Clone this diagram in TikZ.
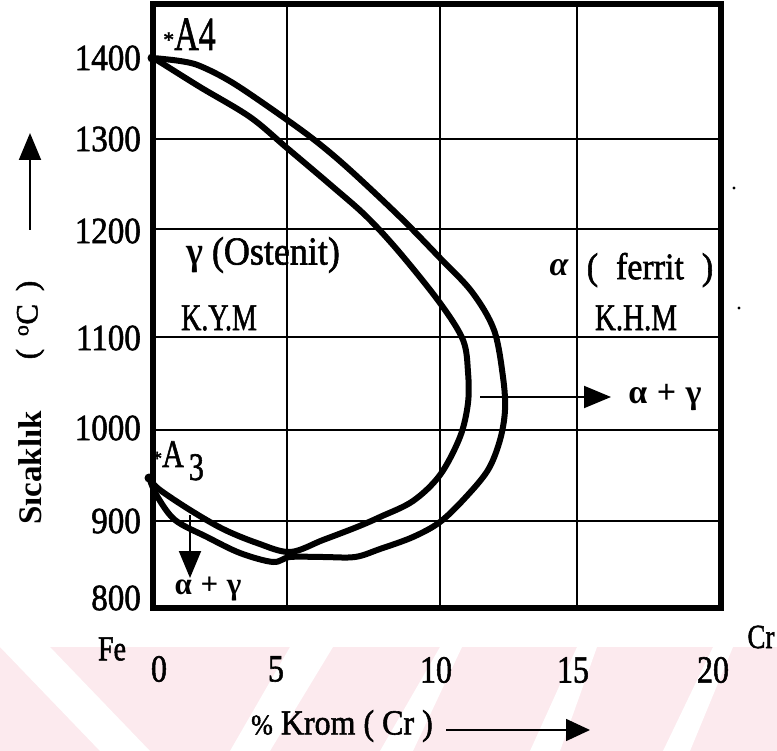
\documentclass[tikz,border=0pt]{standalone}
\usepackage{fontspec}
\setmainfont{Liberation Serif}[FakeBold=1.6]
\newfontfamily\boldser{Liberation Serif Bold}
\usetikzlibrary{arrows.meta}
\definecolor{wmpink}{RGB}{252,234,238}
\newcommand{\stretchy}[2]{\scalebox{1}[#1]{#2}}
\begin{document}
\begin{tikzpicture}[x=1pt,y=-1pt,
  frame/.style={line width=6pt, line join=miter},
  gridl/.style={line width=2.2pt},
  curve/.style={line width=6pt, line join=round, line cap=round},
  arr/.style={line width=2pt, -{Triangle[length=27pt,width=22pt]}},
  ticklab/.style={font=\fontsize{33}{33}\selectfont, anchor=east, inner sep=0pt},
  numlab/.style={font=\fontsize{32}{32}\selectfont, inner sep=0pt},
  lab/.style={inner sep=0pt},
  wm/.style={fill=wmpink, draw=none},
  wmgap/.style={fill=white, draw=none},
]
\useasboundingbox (0,0) rectangle (777,751);
% watermark stripes
\fill[wm] (0,647) rectangle (777,751);
\fill[wmgap] (0,647) -- (50,647) -- (150,751) -- (100,751) -- cycle;
\fill[wmgap] (290,647) -- (333,647) -- (270,751) -- (230,751) -- cycle;
\fill[wmgap] (440,647) -- (462,647) -- (413,751) -- (380,751) -- cycle;
\fill[wmgap] (577,647) -- (597,647) -- (560,751) -- (530,751) -- cycle;
\fill[wmgap] (713,647) -- (733,647) -- (690,751) -- (663,751) -- cycle;
% grid
\foreach \gx in {287,440,577} \draw[gridl] (\gx,4) -- (\gx,608);
\foreach \gy in {139,229,337,430,521} \draw[gridl] (153,\gy) -- (721,\gy);
\draw[frame] (153,4) rectangle (721,608);
% tick labels
\node[ticklab] (t1400) at (141,58) {\stretchy{1.12}{1400}};
\node[ticklab] (t1300) at (141,139) {\stretchy{1.12}{1300}};
\node[ticklab] (t1200) at (141,231) {\stretchy{1.12}{1200}};
\node[ticklab] (t1100) at (141,338) {\stretchy{1.12}{1100}};
\node[ticklab] (t1000) at (141,428) {\stretchy{1.12}{1000}};
\node[ticklab] (t900) at (141,521) {\stretchy{1.12}{900}};
\node[ticklab] (t800) at (141,598) {\stretchy{1.12}{800}};
\node[numlab] (x0) at (159,669) {\stretchy{1.2}{0}};
\node[numlab] (x5) at (276,669) {\stretchy{1.2}{5}};
\node[numlab] (x10) at (436,670) {\stretchy{1.2}{10}};
\node[numlab] (x15) at (573,670) {\stretchy{1.2}{15}};
\node[numlab] (x20) at (713,670) {\stretchy{1.2}{20}};
\node[lab, font=\fontsize{28}{28}\selectfont] (fe) at (112,649) {\stretchy{1.25}{Fe}};
\node[lab, font=\fontsize{27}{27}\selectfont] (cr) at (761,637) {\stretchy{1.25}{Cr}};
% axis titles
\node[lab, rotate=90, font=\fontsize{33}{33}\boldser] (ysic) at (30,468) {Sıcaklık};
\node[lab, rotate=90, font=\fontsize{31}{31}\selectfont] (ydeg) at (30,320) {(\, \textsuperscript{o}C\, )};
\coordinate (yarrS) at (30,230);
\coordinate (yarrE) at (30,133);
\draw[arr] (yarrS) -- (yarrE);
\node[lab, font=\fontsize{32}{32}\selectfont] (xtit) at (342,726) {\stretchy{1.1}{\fontsize{26}{26}\selectfont\%\fontsize{32}{32}\selectfont\ Krom ( Cr )}};
\coordinate (xarrS) at (446,730);
\coordinate (xarrE) at (590,730);
\draw[line width=1.6pt, -{Triangle[length=24pt,width=22pt]}] (xarrS) -- (xarrE);
% curves
\draw[curve] plot[smooth, tension=0.55] coordinates {
 (153,58) (180,61) (200,66) (233,83) (283,117) (317,142) (350,170) (400,217)
 (440,258) (472,292) (494,330) (503,377) (505,410) (500,440) (488,470)
 (465,498) (440,522) (413,537) (380,549) (355,557) (323,557) (290,557)
 (273,562) (240,553) (207,537) (175,520) (157,496) (150,480)};
\draw[curve] plot[smooth, tension=0.55] coordinates {
 (153,58) (160,62) (200,87) (250,117) (287,148) (333,187) (367,217) (400,253)
 (440,303) (463,340) (468,372) (468,403) (460,437) (440,475) (413,501)
 (380,517) (357,527) (323,540) (290,552) (257,543) (223,529) (190,510)
 (160,490) (150,480)};
\fill (152,58) circle (4.5);
\fill (149,478) circle (4.5);
% point labels
\node[lab, anchor=base west] (a4) at (163,50)
  {\fontsize{22}{22}\selectfont\raisebox{3pt}{*}\fontsize{34}{34}\selectfont\stretchy{1.4}{A4}};
\node[lab, anchor=base west] (a3) at (152,467)
  {\fontsize{20}{20}\selectfont\raisebox{2pt}{*}\fontsize{30}{30}\selectfont\stretchy{1.3}{A\,\raisebox{-10pt}{3}}};
% region labels
\node[lab, font=\fontsize{36}{36}\selectfont] (gam) at (263,255) {\stretchy{1.1}{{\boldser γ} (Ostenit)}};
\node[lab, font=\fontsize{28}{28}\selectfont] (kym) at (219,318) {\stretchy{1.35}{K.Y.M}};
\node[lab, font=\fontsize{34}{34}\boldser\itshape] (alf) at (559,268) {α};
\node[lab, font=\fontsize{34}{34}\selectfont] (fer) at (650,270) {\stretchy{1.1}{(\; ferrit\; )}};
\node[lab, font=\fontsize{29}{29}\selectfont] (khm) at (636,318) {\stretchy{1.3}{K.H.M}};
\node[lab, font=\fontsize{34}{34}\boldser] (ag1) at (665,398) {α\;+\;γ};
\node[lab, font=\fontsize{31}{31}\boldser] (ag2) at (208,589) {α\;+\;γ};
% arrows into two-phase regions
\coordinate (h1) at (480,397);
\coordinate (h1e) at (611,397);
\draw[arr] (h1) -- (h1e);
\coordinate (v1) at (190,515);
\coordinate (v1e) at (190,578);
\draw[arr] (v1) -- (v1e);
% stray dots
\fill (734,188) circle (1.6);
\fill (739,308) circle (1.6);
\end{tikzpicture}
\end{document}
